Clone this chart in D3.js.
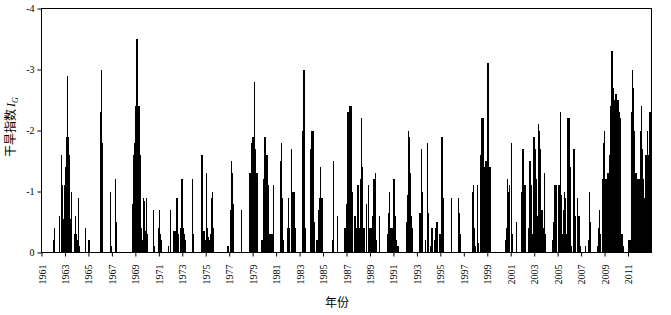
<!DOCTYPE html>
<html>
<head>
<meta charset="utf-8">
<script src="https://d3js.org/d3.v7.min.js"></script>
<style>
  body { margin: 0; background: #fff; }
  .axis text { font-family: "Liberation Serif", "Times New Roman", serif; font-size: 10px; fill: #000; }
  .axis path, .axis line { stroke: #000; }
  .title { font-family: "Noto Sans CJK SC", sans-serif; font-size: 12px; fill: #000; }
</style>
</head>
<body>
<svg id="chart"></svg>
<script>
// years shown on the x axis (monthly values, Jan..Dec for each year)
const years = [1961, 1962, 1963, 1964, 1965, 1966, 1967, 1968, 1969, 1970,
  1971, 1972, 1973, 1974, 1975, 1976, 1977, 1978, 1979, 1980,
  1981, 1982, 1983, 1984, 1985, 1986, 1987, 1988, 1989, 1990,
  1991, 1992, 1993, 1994, 1995, 1996, 1997, 1998, 1999, 2000,
  2001, 2002, 2003, 2004, 2005, 2006, 2007, 2008, 2009, 2010,
  2011, 2012];

// drought index I_G, one row per year, 12 months each
const monthlyIG = [
  [0, 0, 0, 0, 0, 0, 0, 0, 0, 0, 0, 0],
  [-0.2, -0.4, 0, 0, 0, 0, -0.6, 0, -1.6, -1.1, -0.55, -1.1],
  [-1.4, -1.9, -2.9, -1.9, -1.6, -0.55, -1.0, 0, 0, -0.3, -0.6, -0.3],
  [-0.2, -0.9, -0.1, 0, 0, 0, 0, 0, -0.4, 0, 0, 0],
  [-0.2, 0, 0, 0, 0, 0, 0, 0, 0, 0, 0, 0],
  [-2.3, -3.0, -1.8, 0, 0, 0, 0, 0, 0, 0, -1.0, -0.1],
  [0, 0, 0, -1.2, -0.5, 0, 0, 0, 0, 0, 0, 0],
  [0, 0, 0, 0, 0, 0, 0, 0, 0, -0.8, -1.6, -1.8],
  [-2.4, -3.5, -2.4, -2.4, -1.6, -0.4, 0, -0.2, -0.9, -0.85, -0.35, -0.9],
  [-0.3, 0, 0, 0, 0, 0, -0.7, -0.1, 0, 0, 0, -0.4],
  [-0.7, -0.3, -0.2, 0, 0, 0, 0, 0, 0, -0.1, 0, -0.7],
  [0, 0, 0, -0.35, -0.35, -0.35, -0.9, -0.3, 0, 0, -0.4, -1.2],
  [-0.4, -0.3, -0.2, 0, 0, 0, 0, 0, 0, 0, -1.2, -0.3],
  [0, 0, 0, 0, 0, 0, 0, -1.6, -1.6, -0.35, -0.35, -0.2],
  [-1.3, -0.4, -0.25, -0.2, -0.3, -0.9, -1.0, -0.4, 0, 0, 0, 0],
  [0, 0, 0, 0, 0, 0, 0, 0, 0, 0, -0.1, 0],
  [0, -0.7, -1.5, -1.3, -0.8, 0, 0, 0, 0, 0, 0, 0],
  [-0.7, 0, 0, 0, 0, 0, 0, 0, -1.3, -1.3, -1.8, -1.9],
  [-1.9, -2.8, -1.7, -1.3, -1.3, 0, 0, 0, 0, -0.2, -0.2, -1.2],
  [-1.9, -1.6, -1.6, -1.1, -0.3, -0.3, -0.3, -0.3, -0.3, -1.1, 0, 0],
  [0, 0, 0, 0, -1.5, -1.8, -0.9, -0.2, 0, 0, 0, -0.4],
  [-0.9, -0.4, 0, -1.7, -1.0, -1.0, -1.0, -0.4, 0, 0, 0, 0],
  [0, 0, -2.0, -2.0, -3.0, -0.4, 0, 0, 0, 0, 0, -1.7],
  [-2.0, -2.0, -0.5, 0, 0, -0.2, -0.2, -0.7, -0.9, -1.4, -0.9, -0.9],
  [0, 0, 0, 0, 0, 0, 0, 0, 0, -0.2, -1.5, 0],
  [0, 0, -0.6, 0, 0, 0, 0, 0, 0, -0.4, -0.4, -0.8],
  [-0.8, -2.3, -2.3, -2.4, -2.4, -1.0, 0, 0, -0.6, -0.4, -0.4, -1.1],
  [-0.4, -0.4, -1.2, -2.2, -1.4, -0.4, -0.4, 0, -0.8, 0, -1.1, -0.4],
  [-0.4, -0.4, -0.6, -1.2, -1.2, -1.3, -0.2, 0, 0, -0.6, 0, 0],
  [0, 0, 0, 0, 0, -0.3, -0.65, -1.0, -0.4, -0.4, -0.4, -0.4],
  [-1.2, -0.6, -0.2, -0.1, -0.1, 0, 0, 0, 0, 0, 0, 0],
  [0, -0.5, -0.95, -2.0, -1.9, -1.3, -0.6, -0.4, 0, 0, 0, 0],
  [0, 0, -0.65, -0.65, -1.7, -1.0, 0, 0, -0.2, 0, -1.8, -0.65],
  [0, -0.1, -0.4, -0.4, 0, -0.2, 0, -0.4, -0.5, 0, 0, -0.3],
  [-0.3, -1.9, -0.9, 0, 0, 0, 0, 0, 0, 0, 0, -0.9],
  [0, 0, 0, 0, 0, 0, -0.9, -0.65, -0.3, 0, 0, 0],
  [0, 0, 0, 0, 0, 0, 0, 0, -1.0, -1.1, -0.4, -0.1],
  [0, -1.1, -0.15, 0, 0, -1.6, -2.2, -2.2, -1.4, -0.8, -1.5, -1.5],
  [-3.1, -1.4, -1.4, 0, 0, 0, 0, 0, 0, 0, 0, 0],
  [0, 0, 0, 0, 0, 0, -0.2, -0.4, -1.2, -1.0, -1.1, 0],
  [-1.8, -0.3, 0, 0, 0, -0.5, 0, 0, 0, 0, 0, -1.0],
  [-1.7, -0.3, -1.1, 0, 0, 0, -0.4, -1.5, -1.1, 0, -0.3, -1.9],
  [-1.9, -1.7, -1.2, -0.6, -2.1, -2.0, -1.7, -0.7, -0.7, -0.4, -1.3, -0.3],
  [0, 0, 0, 0, 0, 0, -0.2, -0.5, -1.1, -1.1, -1.1, 0],
  [-1.1, -1.1, -2.3, -0.95, -0.3, -0.7, -1.0, -0.9, -0.3, -0.3, -2.2, -2.2],
  [-1.4, -0.1, 0, 0, -1.7, -0.6, 0, 0, -0.9, -0.6, -0.6, -0.1],
  [0, 0, 0, 0, -0.1, 0, 0, -0.2, -1.0, -0.5, 0, 0],
  [0, 0, 0, 0, -0.1, -0.4, -0.7, -0.3, 0, -1.2, -1.8, -2.0],
  [-1.2, -1.2, -1.3, -1.3, -1.3, -1.6, -2.4, -3.3, -2.7, -2.5, -1.8, -2.6],
  [-2.3, -2.5, -2.3, -2.2, -1.7, -0.3, -0.3, -0.1, 0, 0, 0, 0],
  [-0.2, -0.2, -0.2, -2.3, -3.0, -2.7, -2.0, -1.3, -1.3, -1.2, -1.2, -1.2],
  [-2.0, -2.4, -1.7, -1.2, -0.9, -1.6, -1.6, -2.0, -1.6, -2.3, -2.3, -2.3]
];

const xTickYears = [1961, 1963, 1965, 1967, 1969, 1971, 1973, 1975, 1977, 1979,
  1981, 1983, 1985, 1987, 1989, 1991, 1993, 1995, 1997, 1999,
  2001, 2003, 2005, 2007, 2009, 2011];
const yTicks = [0, -1, -2, -3, -4];

class DroughtChart {

  constructor(_config, _data) {
    this.config = {
      parentElement: _config.parentElement,
      containerWidth: _config.containerWidth || 671,
      containerHeight: _config.containerHeight || 315,
      margin: _config.margin || {top: 8.5, right: 19.5, bottom: 62.5, left: 41.5}
    };
    this.data = _data;
    this.initVis();
  }

  initVis() {
    let vis = this;

    vis.width = vis.config.containerWidth - vis.config.margin.left - vis.config.margin.right;
    vis.height = vis.config.containerHeight - vis.config.margin.top - vis.config.margin.bottom;

    // x is continuous in years, each month is 1/12 of a year
    vis.xScale = d3.scaleLinear()
      .domain([years[0], years[years.length - 1] + 1])
      .range([0, vis.width]);

    vis.yScale = d3.scaleLinear()
      .domain([0, -4])
      .range([vis.height, 0]);

    vis.xAxis = d3.axisBottom(vis.xScale)
      .tickValues(xTickYears)
      .tickFormat(d => d)
      .tickSize(4)
      .tickSizeOuter(0);

    vis.yAxis = d3.axisLeft(vis.yScale)
      .tickValues(yTicks)
      .tickFormat(d => String(d))
      .tickSize(4)
      .tickPadding(3)
      .tickSizeOuter(0);

    vis.svg = d3.select(vis.config.parentElement)
      .attr('width', vis.config.containerWidth)
      .attr('height', vis.config.containerHeight);

    vis.chart = vis.svg.append('g')
      .attr('transform', `translate(${vis.config.margin.left},${vis.config.margin.top})`);

    vis.barsG = vis.chart.append('g')
      .attr('shape-rendering', 'crispEdges');

    // box around the plot
    vis.chart.append('rect')
      .attr('width', vis.width)
      .attr('height', vis.height)
      .attr('fill', 'none')
      .attr('stroke', '#000')
      .attr('stroke-width', 1);

    vis.xAxisG = vis.chart.append('g')
      .attr('class', 'axis x-axis')
      .attr('transform', `translate(0,${vis.height})`);

    vis.yAxisG = vis.chart.append('g')
      .attr('class', 'axis y-axis');

    // y title
    let yTitle = vis.svg.append('text')
      .attr('class', 'title')
      .attr('font-size', '11.5px')
      .attr('transform', `translate(15,127) rotate(-90)`)
      .attr('text-anchor', 'middle');
    yTitle.append('tspan').text('干旱指数');
    yTitle.append('tspan')
      .attr('font-family', '"Liberation Serif", serif')
      .attr('font-style', 'italic')
      .attr('dx', 2)
      .text('I');
    yTitle.append('tspan')
      .attr('font-family', '"Liberation Serif", serif')
      .attr('font-style', 'italic')
      .attr('font-size', '8px')
      .attr('dy', 3)
      .text('G');

    vis.svg.append('text')
      .attr('class', 'title')
      .attr('x', 337)
      .attr('y', 307)
      .attr('text-anchor', 'middle')
      .text('年份');

    vis.updateVis();
  }

  updateVis() {
    let vis = this;

    vis.monthData = [];
    years.forEach((yr, i) => {
      vis.data[i].forEach((v, m) => {
        vis.monthData.push({t: yr + m / 12, value: v});
      });
    });

    let step = vis.xScale(years[0] + 1 / 12) - vis.xScale(years[0]);

    vis.barsG.selectAll('rect')
      .data(vis.monthData.filter(d => d.value < 0))
      .join('rect')
        .attr('x', d => vis.xScale(d.t))
        .attr('y', d => vis.yScale(d.value))
        .attr('width', step + 0.3)
        .attr('height', d => vis.yScale(0) - vis.yScale(d.value))
        .attr('fill', '#000');

    vis.xAxisG.call(vis.xAxis);
    vis.xAxisG.selectAll('text')
      .attr('transform', 'rotate(-90)')
      .attr('x', -12)
      .attr('y', 0)
      .attr('dy', '0.35em')
      .style('text-anchor', 'end');

    vis.yAxisG.call(vis.yAxis);
    vis.chart.selectAll('.axis .domain').remove();
  }
}

new DroughtChart({parentElement: '#chart'}, monthlyIG);
</script>
</body>
</html>
